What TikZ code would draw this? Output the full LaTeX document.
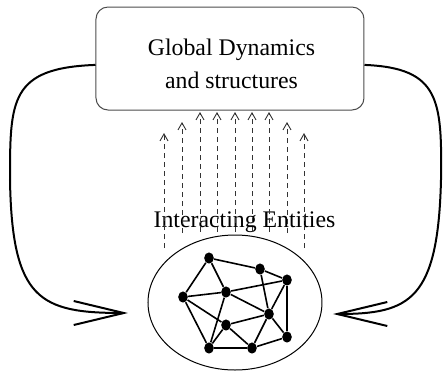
\documentclass[tikz,border=0pt]{standalone}
\usepackage{fontspec}
\setmainfont{Liberation Serif}
\usetikzlibrary{arrows.meta,shapes.geometric}
\def\BoxW{134pt}
\def\BoxH{51.5pt}
\def\CloudW{87pt}
\def\CloudH{67.5pt}

\begin{document}
\begin{tikzpicture}[x=0.5pt,y=-0.5pt,
  font=\fontsize{11.9}{16.5}\selectfont,
  entity/.style={ellipse, fill=black, inner sep=0pt, minimum width=4.8pt, minimum height=5.6pt},
  link/.style={line width=0.8pt},
  loopback/.style={line width=1pt, -{Straight Barb[length=25pt,width=12pt]}},
  flow/.style={dash pattern=on 2.5pt off 2pt, line width=0.45pt, draw=black!80,
    -{Straight Barb[length=3.5pt,width=4pt]}}]
  \useasboundingbox (0,0) rectangle (446,372);
  % global level
  \node[draw=black!70, line width=0.5pt, rounded corners=6pt, minimum width=\BoxW,
    minimum height=\BoxH] (GD) at (230,58.5) {};
  \node[align=center, inner sep=0pt] (GDT) at (231.5,64) {Global Dynamics\\and structures};
  % local level
  \node[draw, ellipse, line width=0.5pt, minimum width=\CloudW, minimum height=\CloudH] (ENT) at (235,302.5) {};
  \node[inner sep=0pt] (IE) at (244.5,222) {Interacting Entities};
  % upward flow
  \foreach \x/\a/\b in {164/248/133, 182/233/122, 200/232/112, 217/232/112, 235/232/112,
    252/232/112, 269/232/112, 287/233/122, 304/248/133}
    \draw[flow] (\x,\a) -- (\x,\b);
  % entities
  \node[entity] (E1) at (209,258) {};
  \node[entity] (E2) at (260,269) {};
  \node[entity] (E3) at (287,280) {};
  \node[entity] (E4) at (183,297) {};
  \node[entity] (E5) at (226,292) {};
  \node[entity] (E6) at (269,314) {};
  \node[entity] (E7) at (226,325) {};
  \node[entity] (E8) at (287,337) {};
  \node[entity] (E9) at (209,348) {};
  \node[entity] (E10) at (252,348) {};
  \foreach \a/\b in {E1/E2, E1/E4, E1/E5, E2/E3, E2/E6, E4/E5, E5/E3, E3/E8, E3/E6, E5/E6,
    E5/E9, E4/E9, E4/E7, E7/E6, E7/E9, E7/E10, E9/E10, E10/E6, E10/E8, E6/E8}
    \draw[link] (\a) -- (\b);
  % feedback
  \coordinate (InL) at (128,313);
  \coordinate (InR) at (333,314);
  \draw[loopback] ([yshift=-3.2pt]GD.west) .. controls (10,68) and (10,100) .. (10,180)
    .. controls (12,300) and (40,313) .. (InL);
  \draw[loopback] ([yshift=-3.2pt]GD.east) .. controls (440,68) and (442,100) .. (441,180)
    .. controls (438,300) and (410,314) .. (InR);
\end{tikzpicture}
\end{document}
